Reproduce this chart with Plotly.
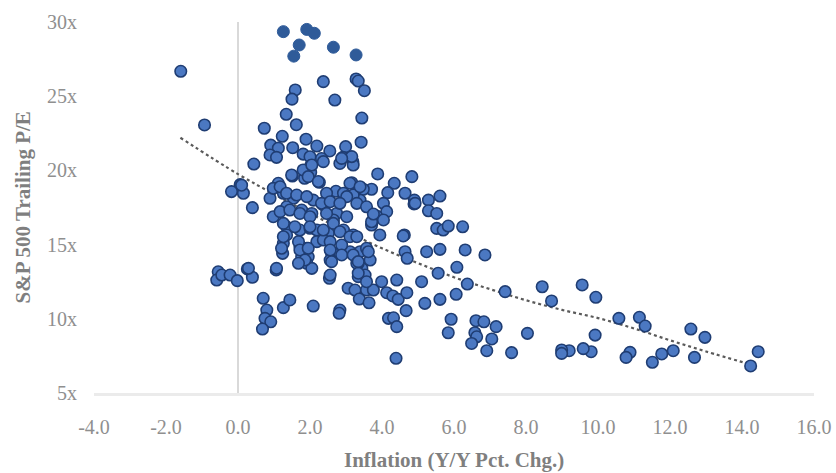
import plotly.graph_objects as go

# Top (darker) observations
top_x = [1.26, 1.91, 2.12, 1.70, 1.55, 2.65, 3.28]
top_y = [29.35, 29.5, 29.24, 28.45, 27.7, 28.3, 27.78]

# Main observations: inflation (x) and trailing P/E (y)
pts = [
    (-1.59, 26.68), (-0.93, 23.06),
    (2.37, 25.98), (1.59, 25.42), (1.50, 24.8), (2.69, 24.74),
    (3.28, 26.16), (3.34, 26.02), (3.51, 25.37), (3.44, 23.53), (3.42, 21.9),
    (1.34, 23.78), (1.62, 23.08), (0.73, 22.84), (1.23, 22.3), (1.89, 22.1),
    (0.91, 21.7), (1.12, 21.5), (1.52, 21.53), (2.19, 21.64), (2.55, 21.31),
    (0.89, 21.04), (1.07, 20.88), (1.81, 21.1), (2.0, 20.92), (2.32, 20.8),
    (2.99, 21.6), (2.91, 20.88), (3.19, 20.59), (2.02, 20.32), (0.44, 20.43),
    (1.85, 19.47), (2.02, 19.87), (1.51, 19.62), (2.26, 19.2), (3.16, 19.17),
    (0.06, 19.04), (-0.18, 18.57), (0.15, 18.46), (1.12, 19.13),
    (0.40, 17.49), (3.88, 19.76), (4.83, 19.58), (4.34, 19.13), (4.16, 18.5),
    (4.64, 18.46), (4.90, 18.0),
    (3.71, 18.73), (3.48, 18.73), (2.72, 18.59), (3.39, 18.0), (4.04, 17.78),
    (4.13, 17.22), (3.85, 16.93), (3.71, 16.32), (3.94, 15.65), (4.62, 15.65),
    (0.89, 18.12), (1.26, 18.46), (1.54, 18.12), (0.98, 16.88), (1.35, 16.2),
    (1.72, 15.98), (2.0, 16.1), (2.37, 17.67), (2.74, 17.1), (3.02, 16.88),
    (2.65, 16.66), (3.2, 15.65), (2.93, 15.98), (2.51, 15.76), (2.19, 15.98),
    (1.35, 17.55), (1.77, 17.33), (2.09, 18.0), (2.05, 17.1), (2.46, 18.46),
    (2.93, 18.46), (3.2, 18.34),
    (-0.55, 13.17), (-0.59, 12.61), (-0.45, 12.95), (-0.22, 12.95), (-0.02, 12.57),
    (0.26, 13.36), (0.40, 12.8), (0.70, 11.38), (0.80, 10.59), (0.75, 10.03),
    (0.91, 9.8), (0.68, 9.31), (1.06, 13.29), (1.26, 10.75), (1.44, 11.27),
    (2.09, 10.86), (2.83, 10.59), (2.81, 10.37), (2.54, 12.73), (3.06, 12.06),
    (3.25, 11.94), (3.37, 11.33), (3.64, 11.08), (3.57, 11.94), (3.76, 11.94),
    (3.99, 12.5), (4.13, 11.76), (4.30, 11.54), (4.45, 11.31), (4.41, 12.61),
    (4.69, 11.76), (4.67, 10.55), (4.18, 10.03), (4.32, 10.07), (4.41, 9.47),
    (4.39, 7.34), (3.34, 12.84), (3.44, 13.4), (3.34, 13.74), (3.53, 12.95),
    (3.57, 12.5), (3.67, 13.96), (3.39, 14.52), (3.11, 14.52), (3.57, 14.75),
    (2.60, 14.41), (2.56, 13.96), (2.83, 14.41), (2.88, 14.97), (2.19, 15.2),
    (2.37, 15.31), (1.72, 14.86), (1.77, 14.18), (1.95, 14.18), (1.91, 13.74),
    (2.05, 13.4), (1.91, 14.75), (1.26, 15.09), (1.24, 14.41), (1.35, 15.65),
    (4.59, 15.58), (4.64, 14.52), (4.70, 14.08), (5.10, 12.5),
    (0.10, 19.0), (1.49, 19.69), (1.81, 20.03), (2.05, 20.36), (1.95, 19.58),
    (2.23, 19.25), (2.37, 20.59), (2.83, 20.47), (3.20, 20.36), (3.11, 19.13),
    (3.39, 18.9), (3.02, 18.23), (0.98, 18.79), (1.17, 18.9), (1.35, 18.46),
    (1.63, 18.34), (1.91, 18.23), (2.32, 17.78), (2.56, 17.89), (2.83, 17.78),
    (3.30, 17.78), (3.57, 17.55), (4.04, 16.66), (3.71, 16.54), (1.17, 17.22),
    (1.44, 17.33), (1.72, 17.1), (2.0, 16.88), (1.26, 16.43), (1.58, 16.2),
    (2.0, 16.2), (2.37, 15.98), (2.65, 16.43), (2.83, 15.87), (2.46, 17.1),
    (2.56, 15.2), (3.11, 15.53), (3.30, 15.53), (1.26, 15.53), (1.68, 15.2),
    (1.21, 14.75), (1.72, 14.64), (1.95, 14.75), (1.86, 13.96), (1.07, 13.4),
    (2.56, 14.64), (2.88, 14.3), (3.20, 14.3), (3.62, 14.52), (3.30, 13.74),
    (3.34, 13.07), (2.56, 12.95), (0.29, 13.4),
    (4.89, 17.74), (5.29, 18.0), (5.61, 18.27), (5.29, 17.28), (5.52, 17.1),
    (5.52, 16.09), (5.70, 15.98), (5.84, 16.25), (6.24, 16.2), (5.24, 14.52),
    (5.61, 14.68), (6.31, 14.64), (6.86, 14.3), (6.08, 13.47), (5.56, 13.07),
    (6.37, 12.34), (7.42, 11.83), (5.19, 11.04), (5.61, 11.31), (6.06, 11.65),
    (5.92, 9.97), (5.84, 9.06), (6.61, 9.87), (6.83, 9.8), (7.17, 9.47),
    (6.58, 9.06), (6.63, 8.79), (6.49, 8.34), (7.05, 8.64), (6.91, 7.85),
    (7.60, 7.72), (4.92, 17.78),
    (8.45, 12.16), (8.71, 11.2), (9.56, 12.28), (9.94, 11.45), (10.58, 10.03),
    (11.15, 10.1), (11.31, 9.51), (12.58, 9.31), (12.97, 8.75), (14.45, 7.78),
    (14.24, 6.82), (12.68, 7.4), (12.09, 7.85), (11.77, 7.63), (11.51, 7.07),
    (10.89, 7.74), (10.78, 7.4), (9.92, 8.9), (9.81, 7.78), (9.59, 7.99),
    (9.20, 7.85), (8.99, 7.9), (8.99, 7.67), (8.04, 9.02),
    (3.16, 20.93), (2.88, 20.81), (3.76, 17.06),
    (1.68, 13.74), (2.60, 13.85), (3.34, 13.85),
]
main_x = [p[0] for p in pts]
main_y = [p[1] for p in pts]

# Trend line
trend_x = [-1.6, 0.0, 1.0, 2.0, 3.0, 4.0, 5.0, 6.0, 7.0, 8.0, 9.0, 10.0, 11.0, 12.0, 13.0, 14.2]
trend_y = [22.2, 19.75, 18.4, 17.1, 15.9, 14.75, 13.75, 12.8, 12.0, 11.25, 10.6, 10.05, 9.35, 8.55, 7.8, 6.95]

x_ticks = [-4, -2, 0, 2, 4, 6, 8, 10, 12, 14, 16]
x_tick_text = ["-4.0", "-2.0", "0.0", "2.0", "4.0", "6.0", "8.0", "10.0", "12.0", "14.0", "16.0"]
y_ticks = [5, 10, 15, 20, 25, 30]
y_tick_text = ["5x", "10x", "15x", "20x", "25x", "30x"]

x_title = "Inflation (Y/Y Pct. Chg.)"
y_title = "S&P 500 Trailing P/E"

FONT = "Liberation Serif"
GRAY = "#8f8f8f"
TGRAY = "#7f7f7f"

fig = go.Figure()
fig.add_trace(go.Scatter(
    x=trend_x, y=trend_y, mode="lines",
    line=dict(color="#5a5a5a", width=2.2, dash="dot", shape="spline"),
    hoverinfo="skip", showlegend=False))
fig.add_trace(go.Scatter(
    x=main_x, y=main_y, mode="markers",
    marker=dict(size=11.5, color="#4b78c2", line=dict(color="#1f3d73", width=1.6)),
    showlegend=False))
fig.add_trace(go.Scatter(
    x=top_x, y=top_y, mode="markers",
    marker=dict(size=12, color="#2f5b99", line=dict(color="#2f5b99", width=1)),
    showlegend=False))

fig.update_layout(
    width=836, height=473,
    margin=dict(l=94, r=22, t=22, b=80, autoexpand=False),
    paper_bgcolor="white", plot_bgcolor="white",
    font=dict(family=FONT, color=GRAY, size=20),
    xaxis=dict(
        range=[-4, 16], tickvals=x_ticks, ticktext=x_tick_text,
        showgrid=False, zeroline=True, zerolinecolor="#d9d9d9", zerolinewidth=1.5,
        showline=True, linecolor="#ebebeb", linewidth=3,
        ticks="", ticklabelstandoff=14, automargin=False,
        tickfont=dict(family=FONT, size=20, color=GRAY),
    ),
    yaxis=dict(
        range=[5, 30], tickvals=y_ticks, ticktext=y_tick_text,
        showgrid=False, zeroline=False, showline=False, ticks="",
        ticklabelstandoff=16, automargin=False,
        tickfont=dict(family=FONT, size=20, color=GRAY),
    ),
    annotations=[
        dict(text="<b>" + x_title + "</b>", xref="paper", yref="paper",
             x=0.5, y=0, xanchor="center", yanchor="middle", yshift=-67,
             showarrow=False, font=dict(family=FONT, size=21, color=TGRAY)),
        dict(text="<b>" + y_title.replace("&", "&amp;") + "</b>", xref="paper", yref="paper",
             x=0, y=0.5, xanchor="center", yanchor="middle", xshift=-72,
             textangle=-90, showarrow=False, font=dict(family=FONT, size=21, color=TGRAY)),
    ],
)

fig.write_html(
    "out.html",
    config={"displayModeBar": False},
    post_script="document.body.style.margin='0';document.body.style.padding='0';document.body.style.overflow='hidden';",
)
